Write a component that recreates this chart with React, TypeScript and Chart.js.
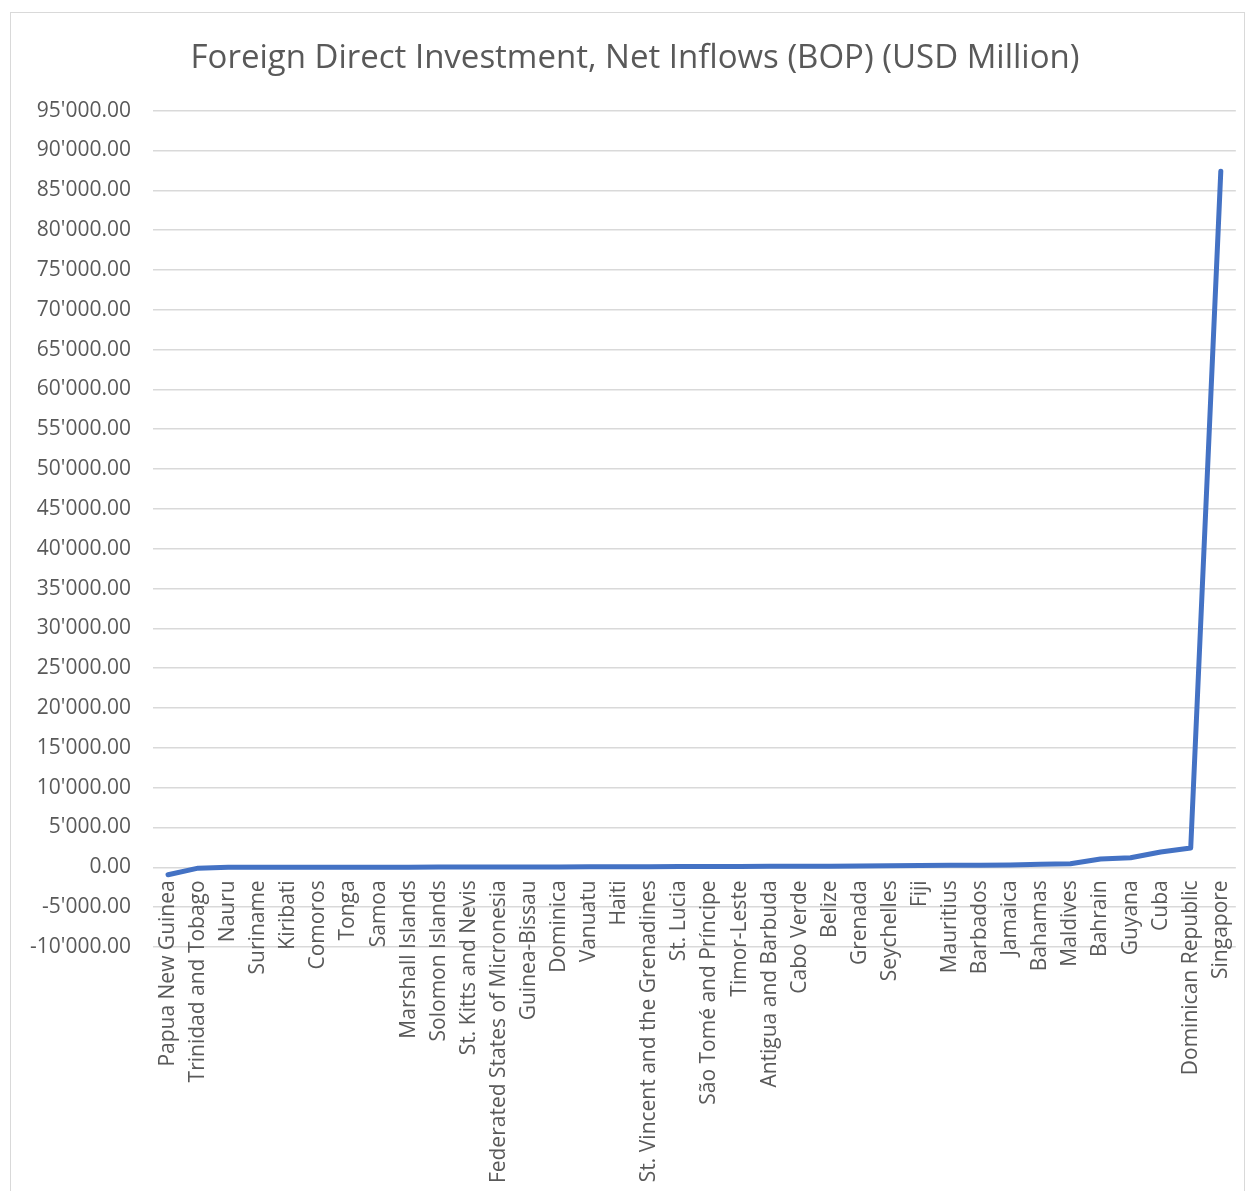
import React, { useEffect, useRef } from "react";
import { Chart, registerables } from "chart.js";

Chart.register(...registerables);

const categories: string[] = [
  "Papua New Guinea",
  "Trinidad and Tobago",
  "Nauru",
  "Suriname",
  "Kiribati",
  "Comoros",
  "Tonga",
  "Samoa",
  "Marshall Islands",
  "Solomon Islands",
  "St. Kitts and Nevis",
  "Federated States of Micronesia",
  "Guinea-Bissau",
  "Dominica",
  "Vanuatu",
  "Haiti",
  "St. Vincent and the Grenadines",
  "St. Lucia",
  "São Tomé and Príncipe",
  "Timor-Leste",
  "Antigua and Barbuda",
  "Cabo Verde",
  "Belize",
  "Grenada",
  "Seychelles",
  "Fiji",
  "Mauritius",
  "Barbados",
  "Jamaica",
  "Bahamas",
  "Maldives",
  "Bahrain",
  "Guyana",
  "Cuba",
  "Dominican Republic",
  "Singapore",
];

const fdiValues: number[] = [
  -930, -100, 1, 5, 6, 8, 10, 15, 20, 30, 40, 40, 50, 50, 60, 70, 80, 100,
  100, 120, 130, 130, 140, 180, 200, 220, 250, 270, 300, 380, 450, 1050, 1200,
  1930, 2440, 87400,
];

const yMin = -10000;
const yMax = 95000;
const yStep = 5000;

const chartTitle = "Foreign Direct Investment, Net Inflows (BOP) (USD Million)";

function formatTick(v: number): string {
  const neg = v < 0;
  const abs = Math.abs(v);
  const intPart = Math.floor(abs)
    .toString()
    .replace(/\B(?=(\d{3})+(?!\d))/g, "'");
  return (neg ? "-" : "") + intPart + ".00";
}

export default function App() {
  const canvasRef = useRef<HTMLCanvasElement | null>(null);

  useEffect(() => {
    document.body.style.overflow = "hidden";
    const canvas = canvasRef.current;
    if (!canvas) return;
    const chart = new Chart(canvas, {
      type: "line",
      data: {
        labels: categories,
        datasets: [
          {
            label: "FDI",
            data: fdiValues,
            borderColor: "#4472C4",
            backgroundColor: "#4472C4",
            borderWidth: 5,
            pointRadius: 0,
            tension: 0,
            borderCapStyle: "round",
            borderJoinStyle: "round",
          },
        ],
      },
      options: {
        responsive: false,
        animation: false,
        devicePixelRatio: 1,
        layout: {
          padding: { top: 0, bottom: 245, left: 0, right: 0 },
        },
        plugins: {
          legend: { display: false },
          tooltip: { enabled: false },
          title: {
            display: true,
            text: chartTitle,
            color: "#595959",
            font: { family: "'Open Sans'", size: 33, weight: "normal" },
            padding: { top: 26, bottom: 32 },
          },
        },
        scales: {
          x: {
            type: "category",
            position: { y: 0 } as any,
            offset: true,
            grid: { display: false, drawTicks: false },
            border: { display: false },
            ticks: {
              autoSkip: false,
              maxRotation: 90,
              minRotation: 90,
              padding: 13,
              color: "#595959",
              font: { family: "'Open Sans'", size: 21 },
            },
          },
          y: {
            min: yMin,
            max: yMax,
            grid: { color: "#d9d9d9", lineWidth: 1.5, drawTicks: false },
            border: { display: false },
            afterFit: (scale: any) => {
              scale.width = 142;
            },
            ticks: {
              stepSize: yStep,
              padding: 22,
              color: "#595959",
              font: { family: "'Open Sans'", size: 21 },
              callback: (v: any) => formatTick(Number(v)),
            },
          },
        },
      },
    });
    return () => chart.destroy();
  }, []);

  return (
    <div
      style={{
        position: "absolute",
        left: 10,
        top: 12,
        width: 1233,
        height: 1179,
        border: "1px solid #d9d9d9",
        borderBottom: "none",
        background: "#fff",
        overflow: "hidden",
      }}
    >
      <canvas
        ref={canvasRef}
        width={1248}
        height={1179}
        style={{ display: "block", width: 1248, height: 1179 }}
      />
    </div>
  );
}
